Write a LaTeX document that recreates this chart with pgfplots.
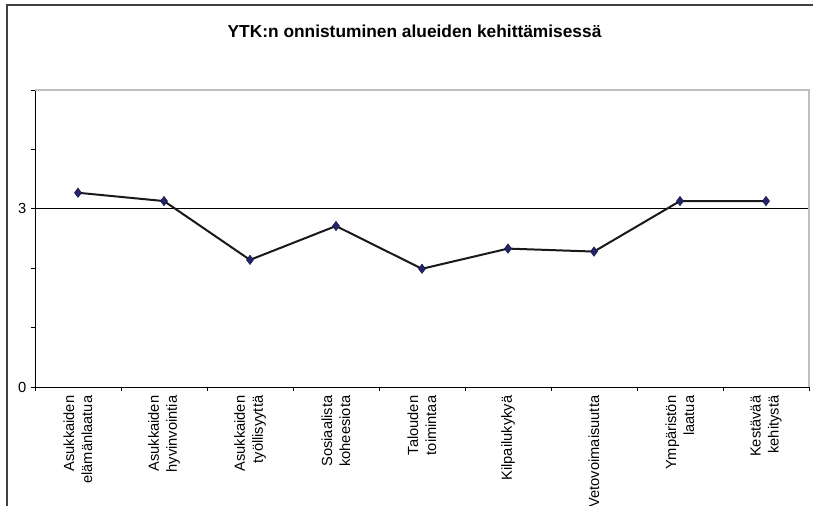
\documentclass[border=0pt]{standalone}
\usepackage{fontspec}
\setmainfont{Liberation Sans}
\usepackage{pgfplots}
\pgfplotsset{compat=1.18}
\definecolor{navy}{HTML}{24246E}
\begin{document}
\begin{tikzpicture}
\useasboundingbox (0pt,0pt) rectangle (609.75pt,379.5pt);
\fill[white] (0pt,0pt) rectangle (609.75pt,379.5pt);
\draw[color=black!75, line width=1.1pt] (5.25pt,0pt) -- (5.25pt,375.75pt) -- (609.75pt,375.75pt);
\node[font=\fontsize{13}{15}\selectfont\bfseries] at (310.9pt,356.25pt) {YTK:n onnistuminen alueiden kehittämisessä};
\begin{axis}[at={(26.25pt,89.25pt)}, anchor=south west, scale only axis,
  width=580.5pt, height=222.75pt,
  xmin=-0.5, xmax=8.5, ymin=0, ymax=5,
  axis x line*=bottom, axis y line*=left,
  axis line style={black, line width=0.6pt, -},
  xtick={0,...,8},
  xticklabels={{Asukkaiden\\elämänlaatua},{Asukkaiden\\hyvinvointia},{Asukkaiden\\työllisyyttä},{Sosiaalista\\koheesiota},{Talouden\\toimintaa},{Kilpailukykyä},{Vetovoimaisuutta},{Ympäristön\\laatua},{Kestävää\\kehitystä}},
  major x tick style={draw=none},
  minor xtick={-0.5,0.5,...,8.5},
  ytick={0,3}, minor ytick={1,2,4,5},
  tick align=outside, major tick length=3pt, minor tick length=3pt,
  tick style={black, line width=0.6pt},
  ymajorgrids, grid style={black, line width=0.6pt},
  xticklabel style={rotate=90, anchor=east, align=right, font=\fontsize{11}{13.5}\selectfont},
  yticklabel style={font=\fontsize{11}{13}\selectfont},
  /pgf/number format/assume math mode=true,
  clip=false
]
\draw[black!25, line width=0.8pt] (rel axis cs:0,1) -- (rel axis cs:1,1) -- (rel axis cs:1,0);
\addplot[black!90, line width=1.5pt, mark=diamond*, mark size=3.5pt,
  mark options={fill=navy, draw=navy!60!black, line width=0.4pt}]
  coordinates {(0,3.27)(1,3.13)(2,2.14)(3,2.71)(4,1.99)(5,2.33)(6,2.28)(7,3.13)(8,3.13)};
\end{axis}
\end{tikzpicture}
\end{document}
